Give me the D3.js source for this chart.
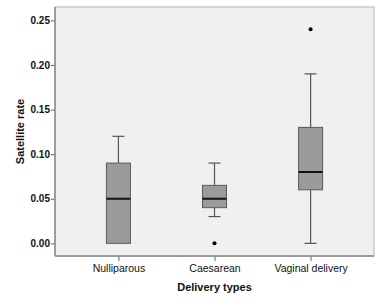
<!DOCTYPE html>
<html>
<head>
<meta charset="utf-8">
<script src="https://cdn.jsdelivr.net/npm/d3@7"></script>
<style>
body { margin: 0; background: #fff; }
text { font-family: Arial, "Liberation Sans", sans-serif; }
</style>
</head>
<body>
<div id="chart"></div>
<script>
// delivery groups and their box summaries
var categories = ["Nulliparous", "Caesarean", "Vaginal delivery"];
var whiskerLow = [0.00, 0.03, 0.00];
var q1 = [0.00, 0.04, 0.06];
var median = [0.05, 0.05, 0.08];
var q3 = [0.09, 0.065, 0.13];
var whiskerHigh = [0.12, 0.09, 0.19];
var outliers = [[], [0.00], [0.24]];
var yTicks = [0.00, 0.05, 0.10, 0.15, 0.20, 0.25];

var w = 383, h = 308;
var margin = {left: 55, top: 7, right: 9, bottom: 52};
var gw = w - margin.left - margin.right;
var gh = h - margin.top - margin.bottom;

var svg = d3.select("#chart").append("svg")
	.attr("width", w).attr("height", h);

var g = svg.append("g")
	.attr("transform", "translate(" + margin.left + "," + margin.top + ")");

var x = d3.scalePoint().domain(categories).range([0, gw]).padding(0.66);
var y = d3.scaleLinear().domain([-0.0142, 0.265]).range([gh, 0]);

// plot background
g.append("rect")
	.attr("x", 0).attr("y", 0).attr("width", gw).attr("height", gh)
	.attr("fill", "#f0f0f0").attr("stroke", "#b4b4b4").attr("stroke-width", 1);

var boxW = 24;
var data = categories.map(function(c, i) {
	return {cat: c, lo: whiskerLow[i], q1: q1[i], med: median[i], q3: q3[i], hi: whiskerHigh[i], out: outliers[i]};
});

var boxes = g.selectAll("g.box").data(data).enter().append("g")
	.attr("class", "box")
	.attr("transform", function(d) { return "translate(" + x(d.cat) + ",0)"; });

// whiskers
boxes.append("line")
	.attr("x1", 0).attr("x2", 0)
	.attr("y1", function(d) { return y(d.hi); })
	.attr("y2", function(d) { return y(d.q3); })
	.attr("stroke", "#555").attr("stroke-width", 1.2);
boxes.append("line")
	.attr("x1", 0).attr("x2", 0)
	.attr("y1", function(d) { return y(d.q1); })
	.attr("y2", function(d) { return y(d.lo); })
	.attr("stroke", "#555").attr("stroke-width", 1.2);
boxes.append("line")
	.attr("x1", -boxW / 4).attr("x2", boxW / 4)
	.attr("y1", function(d) { return y(d.hi); })
	.attr("y2", function(d) { return y(d.hi); })
	.attr("stroke", "#555").attr("stroke-width", 1.2);
boxes.filter(function(d) { return d.lo < d.q1; }).append("line")
	.attr("x1", -boxW / 4).attr("x2", boxW / 4)
	.attr("y1", function(d) { return y(d.lo); })
	.attr("y2", function(d) { return y(d.lo); })
	.attr("stroke", "#555").attr("stroke-width", 1.2);

boxes.append("rect")
	.attr("x", -boxW / 2).attr("width", boxW)
	.attr("y", function(d) { return y(d.q3); })
	.attr("height", function(d) { return y(d.q1) - y(d.q3); })
	.attr("fill", "#9b9b9b").attr("stroke", "#5a5a5a").attr("stroke-width", 1);

boxes.append("line")
	.attr("x1", -boxW / 2).attr("x2", boxW / 2)
	.attr("y1", function(d) { return y(d.med); })
	.attr("y2", function(d) { return y(d.med); })
	.attr("stroke", "#111").attr("stroke-width", 2);

boxes.selectAll("circle").data(function(d) { return d.out; }).enter().append("circle")
	.attr("cx", 0).attr("cy", function(v) { return y(v); })
	.attr("r", 2).attr("fill", "#000");

// axes
var yAxis = g.append("g")
	.call(d3.axisLeft(y).tickValues(yTicks).tickFormat(d3.format(".2f")).tickSize(4).tickPadding(1));
yAxis.select(".domain").remove();
yAxis.selectAll("line").attr("stroke", "#666");
yAxis.selectAll("text").attr("font-size", 10).attr("font-weight", "bold").attr("fill", "#111");

var xAxis = g.append("g")
	.attr("transform", "translate(0," + gh + ")")
	.call(d3.axisBottom(x).tickSize(5).tickPadding(4));
xAxis.select(".domain").remove();
xAxis.selectAll("line").attr("stroke", "#666");
xAxis.selectAll("text").attr("font-size", 10.5).attr("fill", "#111");

// darker left and bottom frame lines
g.append("line").attr("x1", 0).attr("x2", 0).attr("y1", 0).attr("y2", gh)
	.attr("stroke", "#8a8a8a").attr("stroke-width", 1.5);
g.append("line").attr("x1", 0).attr("x2", gw).attr("y1", gh).attr("y2", gh)
	.attr("stroke", "#8a8a8a").attr("stroke-width", 1.5);

// titles
svg.append("text")
	.attr("x", margin.left + gw / 2).attr("y", 291)
	.attr("text-anchor", "middle")
	.attr("font-size", 11).attr("font-weight", "bold").attr("fill", "#111")
	.text("Delivery types");

svg.append("text")
	.attr("transform", "translate(24," + (margin.top + gh / 2) + ") rotate(-90)")
	.attr("text-anchor", "middle")
	.attr("font-size", 11).attr("font-weight", "bold").attr("fill", "#111")
	.text("Satellite rate");
</script>
</body>
</html>
